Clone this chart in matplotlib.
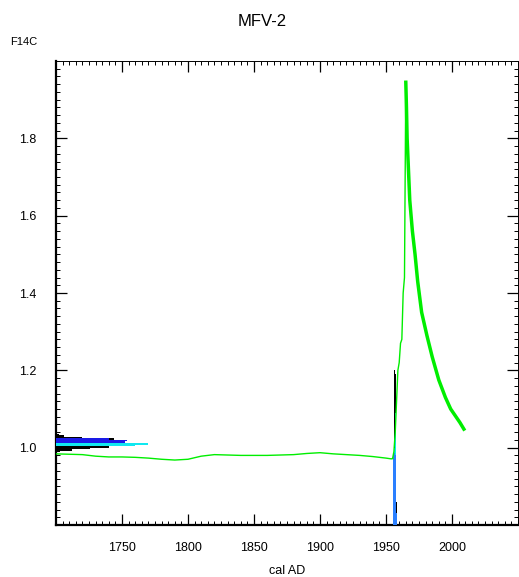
import matplotlib
matplotlib.use('Agg')
from matplotlib import pyplot as plt
from matplotlib.ticker import MultipleLocator
import numpy as np

plt.rcParams['font.family'] = ['Liberation Sans', 'DejaVu Sans']

# atmospheric calibration curve (F14C), pre-bomb part
pre_years = [1700, 1710, 1720, 1730, 1740, 1750, 1760, 1770, 1780, 1790, 1800, 1810,
             1820, 1830, 1840, 1850, 1860, 1870, 1880, 1890, 1900, 1910, 1920, 1930,
             1940, 1950, 1954, 1955]
pre_f14c = [0.984, 0.983, 0.982, 0.978, 0.976, 0.976, 0.975, 0.973, 0.970, 0.968, 0.970, 0.978,
            0.982, 0.981, 0.980, 0.980, 0.980, 0.981, 0.982, 0.985, 0.987, 0.984, 0.982, 0.980,
            0.977, 0.973, 0.971, 0.972]

# bomb rise (thin) and decay (thick band)
rise_years = [1955, 1956, 1957, 1958, 1959, 1960, 1961, 1962, 1963, 1964, 1965]
rise_f14c = [0.972, 0.99, 1.04, 1.12, 1.20, 1.22, 1.27, 1.28, 1.40, 1.44, 1.945]
decay_years = [1965, 1965.5, 1966, 1967, 1968, 1970, 1972, 1974, 1977, 1981, 1985,
               1990, 1995, 1999, 2003, 2006, 2009]
decay_f14c = [1.945, 1.88, 1.80, 1.72, 1.64, 1.56, 1.50, 1.43, 1.35, 1.29, 1.235,
              1.175, 1.13, 1.10, 1.08, 1.065, 1.048]

# measured sample F14C distribution (lengths in years from left axis)
samp_levels = [0.990, 0.994, 0.998, 1.002, 1.006, 1.010, 1.014, 1.018, 1.022, 1.026, 1.030, 1.034]
samp_black = [3, 12, 26, 40, 42, 36, 40, 46, 44, 20, 6, 2]
samp_blue = [0, 0, 0, 0, 0, 30, 52, 54, 40, 0, 0, 0]
samp_cyan = [0, 0, 0, 0, 60, 70, 0, 0, 0, 0, 0, 0]

# calibrated age probability (spike near 1956)
cal_years = [1950.5, 1955.5, 1956.0, 1956.5, 1957.0, 1957.5, 1958.0]
cal_black = [0.82, 0.83, 1.20, 1.20, 1.19, 0.86, 0.84]
cal_cyan = [0, 0, 1.00, 1.09, 1.09, 0, 0]
cal_blue = [0, 0.985, 0.985, 0.985, 0.98, 0.83, 0]

fig = plt.figure(figsize=(5.19, 5.77), dpi=100)
ax = fig.add_axes([56/519, 52/577, 462/519, 464/577])

ybot = 0.8
hgt = 0.004
ax.barh(samp_levels, samp_black, height=hgt, left=1700, color='black', zorder=2)
ax.barh(samp_levels, samp_blue, height=hgt, left=1700, color='#1a1ae6', zorder=3)
ax.barh(samp_levels, samp_cyan, height=hgt, left=1700, color='#10e8f0', zorder=4)

b = np.array(cal_black) - ybot
c = np.clip(np.array(cal_cyan) - ybot, 0, None)
u = np.clip(np.array(cal_blue) - ybot, 0, None)
ax.bar(cal_years, b, width=0.5, bottom=ybot, align='edge', color='black', zorder=2)
ax.bar(cal_years, c, width=0.5, bottom=ybot, align='edge', color='#10e8f0', zorder=3)
ax.bar(cal_years, u, width=0.5, bottom=ybot, align='edge', color='#2a7fff', zorder=4)

ax.plot(pre_years, pre_f14c, color='#00ee00', lw=1.0, zorder=5)
ax.plot(rise_years, rise_f14c, color='#00ee00', lw=1.0, zorder=5)
ax.plot(decay_years, decay_f14c, color='#00ee00', lw=2.5, zorder=5)

ax.set_xlim(1700, 2050)
ax.set_ylim(0.8, 2.0)
ax.set_xticks([1750, 1800, 1850, 1900, 1950, 2000])
ax.set_yticks([1.0, 1.2, 1.4, 1.6, 1.8])
ax.set_yticklabels(['1.0', '1.2', '1.4', '1.6', '1.8'])
ax.xaxis.set_minor_locator(MultipleLocator(5))
ax.yaxis.set_minor_locator(MultipleLocator(0.02))
ax.tick_params(which='both', direction='in', top=True, right=True, labelsize=9)
ax.tick_params(which='major', length=8, width=0.9)
ax.tick_params(which='minor', length=3, width=0.7)
ax.tick_params(axis='x', pad=12)
ax.tick_params(axis='y', pad=14)
for s in ['left', 'bottom']:
    ax.spines[s].set_linewidth(1.6)
for s in ['top', 'right']:
    ax.spines[s].set_linewidth(0.7)

ax.set_xlabel('cal AD', fontsize=9, labelpad=8)
fig.text(262/519, 1 - 22/577, 'MFV-2', fontsize=12, ha='center', va='center')
fig.text(10/519, 1 - 42/577, 'F14C', fontsize=8, ha='left', va='center')

fig.savefig('out.png', dpi=100)
